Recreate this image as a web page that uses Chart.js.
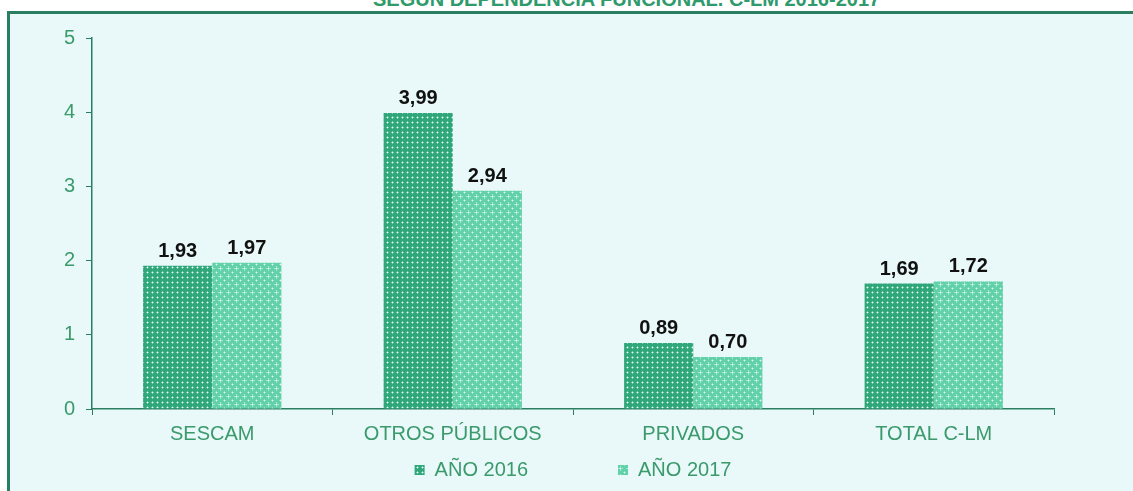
<!DOCTYPE html>
<html>
<head>
<meta charset="utf-8">
<script src="https://cdn.jsdelivr.net/npm/chart.js@4.4.0/dist/chart.umd.min.js"></script>
<style>
  html, body { margin: 0; padding: 0; background: #fff; }
  body { width: 1133px; height: 491px; position: relative; overflow: hidden; font-family: "Liberation Sans", Arial, sans-serif; }
  #title { position: absolute; left: 373px; top: -11px; white-space: nowrap; font-weight: bold; font-size: 20px; line-height: 20px; color: #2f9a6c; }
  #box { position: absolute; left: 7px; top: 11px; width: 1200px; height: 600px; background: #e9f8f8; border-left: 3px solid #2a7f62; border-top: 3px solid #2a7f62; }
  #wrap { position: absolute; left: 0; top: 0; width: 1133px; height: 491px; }
</style>
</head>
<body>
<div id="title">SEGÚN DEPENDENCIA FUNCIONAL. C-LM 2016-2017</div>
<div id="box"></div>
<div id="wrap"><canvas id="chart"></canvas></div>
<script>
// datos
const categorias = ['SESCAM', 'OTROS PÚBLICOS', 'PRIVADOS', 'TOTAL C-LM'];
const anio2016 = [1.93, 3.99, 0.89, 1.69];
const anio2017 = [1.97, 2.94, 0.70, 1.72];
const seriesNombres = ['AÑO 2016', 'AÑO 2017'];

const verde = '#3a9a6c';
const lineaEje = '#2a7f62';
const fuente = '"Liberation Sans", Arial, sans-serif';

// tramas de las barras
const tramaPuntos = () => {
  const c = document.createElement('canvas');
  c.width = 5; c.height = 5;
  const g = c.getContext('2d');
  g.fillStyle = '#30a67b';
  g.fillRect(0, 0, 5, 5);
  g.fillStyle = '#7fcfae';
  g.fillRect(1, 2, 1, 1); g.fillRect(3, 2, 1, 1);
  g.fillRect(2, 1, 1, 1); g.fillRect(2, 3, 1, 1);
  g.fillStyle = '#e6fbf2';
  g.fillRect(2, 2, 1, 1);
  return g.createPattern(c, 'repeat');
};
const tramaCruces = () => {
  const c = document.createElement('canvas');
  c.width = 8; c.height = 8;
  const g = c.getContext('2d');
  g.fillStyle = '#62d0a8';
  g.fillRect(0, 0, 8, 8);
  g.fillStyle = '#a6e9d0';
  g.fillRect(2, 4, 5, 1);
  g.fillRect(4, 2, 1, 5);
  g.fillStyle = '#e4faf1';
  g.fillRect(4, 4, 1, 1);
  g.fillRect(0, 0, 1, 1);
  g.fillStyle = '#8ee0c2';
  g.fillRect(0, 1, 1, 1); g.fillRect(1, 0, 1, 1);
  g.fillRect(7, 0, 1, 1); g.fillRect(0, 7, 1, 1);
  return g.createPattern(c, 'repeat');
};

// etiquetas encima de las barras
const etiquetas = {
  id: 'etiquetas',
  afterDatasetsDraw(chart) {
    const ctx = chart.ctx;
    ctx.save();
    ctx.font = `bold 20px ${fuente}`;
    ctx.fillStyle = '#111';
    ctx.textAlign = 'center';
    ctx.textBaseline = 'alphabetic';
    chart.data.datasets.forEach((ds, i) => {
      chart.getDatasetMeta(i).data.forEach((bar, j) => {
        ctx.fillText(ds.data[j].toFixed(2).replace('.', ','), bar.x, bar.y - 9);
      });
    });
    ctx.restore();
  },
};

const ctx = document.querySelector('#chart').getContext('2d');
const grafico = new Chart(ctx, {
  type: 'bar',
  data: {
    labels: categorias,
    datasets: [{
      label: seriesNombres[0],
      data: anio2016,
      backgroundColor: tramaPuntos(),
      borderWidth: 0,
    }, {
      label: seriesNombres[1],
      data: anio2017,
      backgroundColor: tramaCruces(),
      borderWidth: 0,
    }],
  },
  options: {
    responsive: true,
    maintainAspectRatio: false,
    animation: false,
    categoryPercentage: 0.575,
    barPercentage: 1,
    layout: { padding: { left: 0, right: 79, top: 38, bottom: 1 } },
    plugins: {
      legend: {
        position: 'bottom',
        fullSize: false,
        labels: {
          color: verde,
          boxWidth: 10,
          boxHeight: 10,
          padding: 10,
          font: { size: 20, family: fuente },
          generateLabels: (chart) => {
            const items = Chart.defaults.plugins.legend.labels.generateLabels(chart);
            // hueco entre las dos entradas
            items[0].text += '\u2003\u2003\u2003\u2003';
            return items;
          },
        },
      },
      tooltip: { enabled: false },
    },
    scales: {
      x: {
        afterFit: (s) => { s.height = 41; },
        grid: { drawOnChartArea: false, color: lineaEje, tickLength: 6, offset: true },
        border: { color: lineaEje, width: 1.5 },
        ticks: { color: verde, padding: 7, font: { size: 20, family: fuente } },
      },
      y: {
        min: 0,
        max: 5,
        afterFit: (s) => { s.width = 92; },
        grid: { drawOnChartArea: false, color: lineaEje, tickLength: 6 },
        border: { color: lineaEje, width: 1.5 },
        ticks: { stepSize: 1, color: verde, padding: 11, font: { size: 20, family: fuente } },
      },
    },
  },
  plugins: [etiquetas],
});
</script>
</body>
</html>
